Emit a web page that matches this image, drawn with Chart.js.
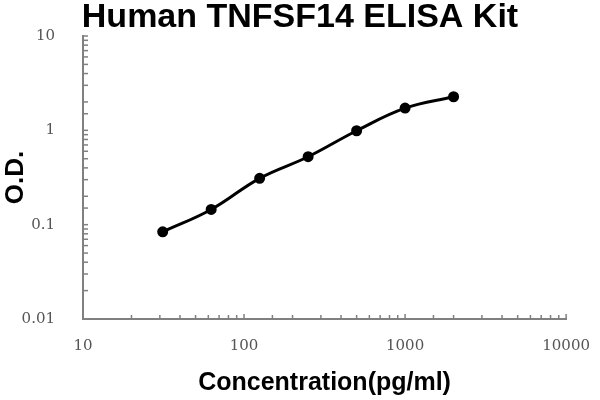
<!DOCTYPE html>
<html>
<head>
<meta charset="utf-8">
<script src="https://cdn.jsdelivr.net/npm/chart.js@4/dist/chart.umd.min.js"></script>
<style>
  html, body { margin: 0; padding: 0; background: #fff; }
  #wrap { width: 600px; height: 400px; position: relative; }
</style>
</head>
<body>
<div id="wrap"><canvas id="c" width="600" height="400"></canvas></div>
<script>
const chartTitle = "Human TNFSF14 ELISA Kit";
const xAxisTitle = "Concentration(pg/ml)";
const yAxisTitle = "O.D.";
const concentrations = [31.25, 62.5, 125, 250, 500, 1000, 2000];
const odValues = [0.084, 0.145, 0.31, 0.525, 0.99, 1.72, 2.27];
const xTickRange = [10, 10000];
const yTickRange = [0.01, 10];

const points = concentrations.map((x, i) => ({ x: x, y: odValues[i] }));

function isDecade(v) {
  const l = Math.log10(v);
  return Math.abs(l - Math.round(l)) < 1e-6;
}
function decadeLabel(v) {
  if (!isDecade(v)) return '';
  return String(Number(Number(v).toPrecision(1)));
}

const titlePlugin = {
  id: 'titleText',
  afterDraw(chart) {
    const ctx = chart.ctx;
    ctx.save();
    ctx.font = 'bold 34px "Liberation Sans", Arial, sans-serif';
    ctx.fillStyle = '#000';
    ctx.textAlign = 'center';
    ctx.textBaseline = 'alphabetic';
    ctx.fillText(chartTitle, 300, 27);
    ctx.restore();
  }
};

const innerTicks = {
  id: 'innerTicks',
  beforeDatasetsDraw(chart) {
    const ctx = chart.ctx;
    const xs = chart.scales.x, ys = chart.scales.y;
    ctx.save();
    ctx.strokeStyle = '#808080';
    ctx.lineWidth = 1.5;
    xs.ticks.forEach(t => {
      if (t.value <= xs.min) return;
      const px = xs.getPixelForValue(t.value);
      const len = isDecade(t.value) ? 5 : 4;
      ctx.beginPath();
      ctx.moveTo(px, xs.top);
      ctx.lineTo(px, xs.top - len);
      ctx.stroke();
    });
    ys.ticks.forEach(t => {
      if (t.value <= ys.min * 1.0001) return;
      const py = ys.getPixelForValue(t.value);
      const len = 5;
      ctx.beginPath();
      ctx.moveTo(ys.right, py);
      ctx.lineTo(ys.right + len, py);
      ctx.stroke();
    });
    ctx.restore();
  }
};

new Chart(document.getElementById('c'), {
  type: 'scatter',
  data: {
    datasets: [{
      data: points,
      showLine: true,
      borderColor: '#000',
      backgroundColor: '#000',
      borderWidth: 3,
      pointRadius: 4,
      pointHoverRadius: 4,
      tension: 0.4
    }]
  },
  options: {
    responsive: false,
    animation: false,
    events: [],
    layout: { padding: { top: 36, right: 32, left: 0, bottom: 0 } },
    plugins: { legend: { display: false }, tooltip: { enabled: false }, title: { display: false } },
    scales: {
      x: {
        type: 'logarithmic',
        min: xTickRange[0],
        max: xTickRange[1],
        afterFit(s) { s.height = 81; },
        grid: { display: false },
        border: { display: true, color: '#808080', width: 2 },
        ticks: {
          autoSkip: false,
          maxRotation: 0,
          padding: 10,
          color: '#555',
          font: { family: '"DejaVu Serif", serif', size: 15 },
          callback: (v) => decadeLabel(v)
        },
        title: {
          display: true,
          text: xAxisTitle,
          color: '#000',
          font: { family: '"Liberation Sans", Arial, sans-serif', size: 25, weight: 'bold' },
          padding: { top: 0, bottom: 2 }
        }
      },
      y: {
        type: 'logarithmic',
        min: yTickRange[0],
        max: yTickRange[1],
        afterFit(s) { s.width = 83; },
        grid: { display: false },
        border: { display: true, color: '#808080', width: 2 },
        ticks: {
          autoSkip: false,
          padding: 20,
          color: '#555',
          font: { family: '"DejaVu Serif", serif', size: 15 },
          callback: (v) => decadeLabel(v)
        },
        title: {
          display: true,
          text: yAxisTitle,
          color: '#000',
          font: { family: '"Liberation Sans", Arial, sans-serif', size: 26, weight: 'bold' },
          padding: { top: 0, bottom: 0 }
        }
      }
    }
  },
  plugins: [titlePlugin, innerTicks]
});
</script>
</body>
</html>
